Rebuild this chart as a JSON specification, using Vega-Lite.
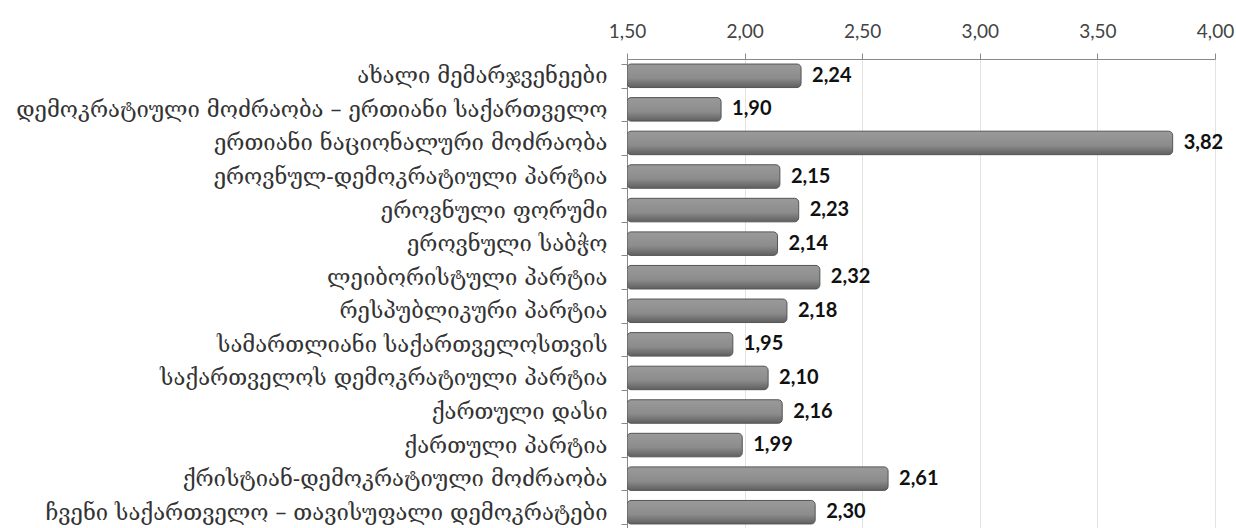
{
  "$schema": "https://vega.github.io/schema/vega-lite/v6.json",
  "width": 588,
  "height": 470,
  "autosize": "none",
  "padding": {"left": 627, "top": 59, "right": 21, "bottom": 0},
  "background": "white",
  "data": {
    "values": [
      {"party": "ახალი მემარჯვენეები", "value": 2.24},
      {"party": "დემოკრატიული მოძრაობა – ერთიანი საქართველო", "value": 1.90},
      {"party": "ერთიანი ნაციონალური მოძრაობა", "value": 3.82},
      {"party": "ეროვნულ-დემოკრატიული პარტია", "value": 2.15},
      {"party": "ეროვნული ფორუმი", "value": 2.23},
      {"party": "ეროვნული საბჭო", "value": 2.14},
      {"party": "ლეიბორისტული პარტია", "value": 2.32},
      {"party": "რესპუბლიკური პარტია", "value": 2.18},
      {"party": "სამართლიანი საქართველოსთვის", "value": 1.95},
      {"party": "საქართველოს დემოკრატიული პარტია", "value": 2.10},
      {"party": "ქართული დასი", "value": 2.16},
      {"party": "ქართული პარტია", "value": 1.99},
      {"party": "ქრისტიან-დემოკრატიული მოძრაობა", "value": 2.61},
      {"party": "ჩვენი საქართველო – თავისუფალი დემოკრატები", "value": 2.30}
    ]
  },
  "config": {
    "view": {"stroke": null},
    "locale": {
      "number": {"decimal": ",", "thousands": ".", "grouping": [3], "currency": ["", " €"]}
    }
  },
  "encoding": {
    "y": {
      "field": "party",
      "type": "nominal",
      "sort": null,
      "title": null,
      "scale": {"paddingInner": 0.3, "paddingOuter": 0.15},
      "axis": {
        "orient": "left",
        "labelFont": "DejaVu Serif",
        "labelFontSize": 22,
        "labelColor": "#333333",
        "labelPadding": 14,
        "labelLimit": 620,
        "tickBand": "extent",
        "tickSize": 6,
        "tickColor": "#888888",
        "domainColor": "#888888",
        "grid": false
      }
    },
    "x": {
      "field": "value",
      "type": "quantitative",
      "title": null,
      "scale": {"domain": [1.5, 4.0], "nice": false, "zero": false},
      "axis": {
        "orient": "top",
        "values": [1.5, 2.0, 2.5, 3.0, 3.5, 4.0],
        "format": ".2f",
        "labelFlush": false,
        "labelFont": "Lato",
        "labelFontSize": 19,
        "labelColor": "#444444",
        "labelPadding": 12,
        "tickSize": 6,
        "tickColor": "#888888",
        "domainColor": "#888888",
        "gridColor": "#e3e3e3",
        "grid": true
      }
    }
  },
  "layer": [
    {
      "mark": {
        "type": "bar",
        "clip": true,
        "cornerRadiusEnd": 4,
        "stroke": "#555555",
        "strokeWidth": 1,
        "color": {
          "gradient": "linear",
          "x1": 0, "y1": 0, "x2": 0, "y2": 1,
          "stops": [
            {"offset": 0, "color": "#9a9a9a"},
            {"offset": 0.6, "color": "#8c8c8c"},
            {"offset": 1, "color": "#5f5f5f"}
          ]
        }
      },
      "encoding": {"x2": {"datum": 1.5}}
    },
    {
      "mark": {
        "type": "text",
        "align": "left",
        "baseline": "middle",
        "dx": 11,
        "font": "Lato",
        "fontWeight": "bold",
        "fontSize": 20,
        "color": "#111111"
      },
      "encoding": {
        "text": {"field": "value", "type": "quantitative", "format": ".2f"}
      }
    }
  ]
}
